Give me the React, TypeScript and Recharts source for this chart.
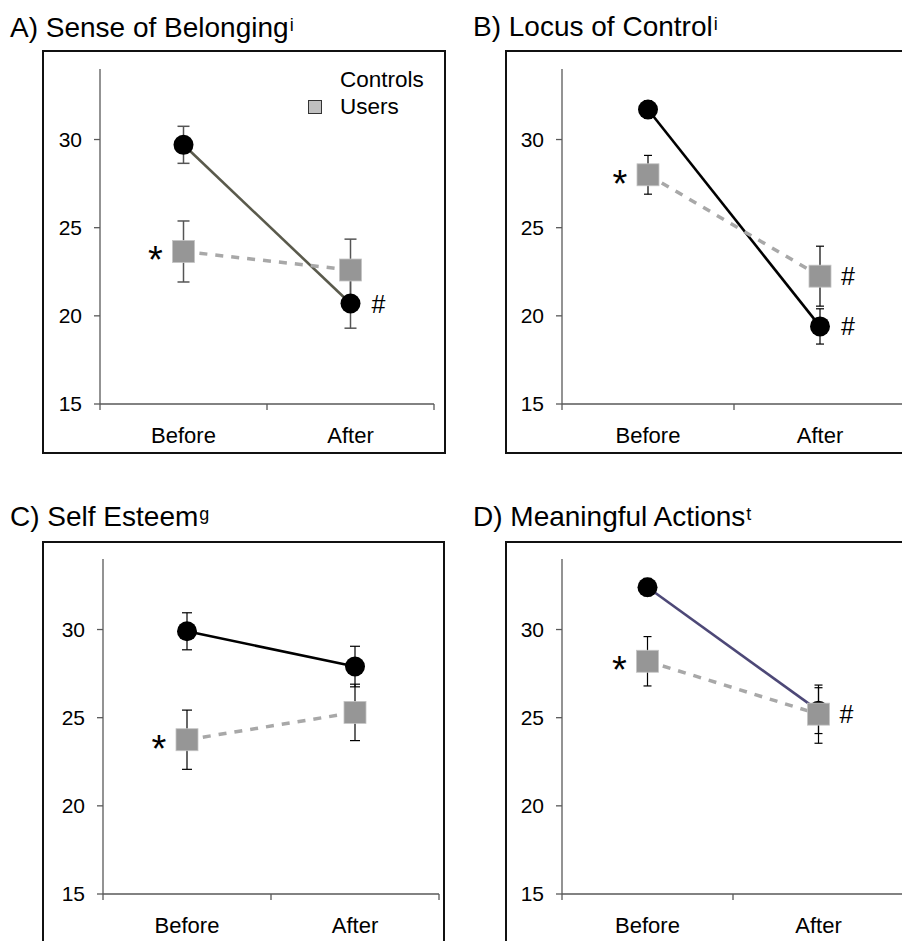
import React from "react";
import { ErrorBar, LabelList, Line, LineChart, XAxis, YAxis } from "recharts";

const categories = ["Before", "After"];
const xSlots = [0.5, 1.5];
const xTicks = [0, 0.5, 1, 1.5, 2];
const yTicks = [15, 20, 25, 30];
const seriesNames = ["Controls", "Users"];

// A) Sense of Belonging
const belongingControls = [29.7, 20.7];
const belongingControlsErr = [1.05, 1.4];
const belongingUsers = [23.65, 22.6];
const belongingUsersErr = [1.73, 1.75];
const belongingControlsNotes = ["", "#"];
const belongingUsersNotes = ["*", ""];

// B) Locus of Control
const locusControls = [31.7, 19.4];
const locusControlsErr = [0.5, 1.0];
const locusUsers = [28.0, 22.25];
const locusUsersErr = [1.1, 1.7];
const locusControlsNotes = ["", "#"];
const locusUsersNotes = ["*", "#"];

// C) Self Esteem
const esteemControls = [29.9, 27.9];
const esteemControlsErr = [1.05, 1.15];
const esteemUsers = [23.75, 25.3];
const esteemUsersErr = [1.68, 1.6];
const esteemControlsNotes = ["", ""];
const esteemUsersNotes = ["*", ""];

// D) Meaningful Actions
const actionsControls = [32.4, 25.4];
const actionsControlsErr = [0.5, 1.3];
const actionsUsers = [28.2, 25.2];
const actionsUsersErr = [1.4, 1.65];
const actionsControlsNotes = ["", ""];
const actionsUsersNotes = ["*", "#"];

const FONT = "'Liberation Sans', Arial, sans-serif";
const AXIS = "#595959";

function buildRows(c: number[], ce: number[], u: number[], ue: number[], cn: string[], un: string[]) {
  return xSlots.map((x, i) => ({
    x,
    controls: c[i],
    controlsErr: ce[i],
    users: u[i],
    usersErr: ue[i],
    controlsNote: cn[i],
    usersNote: un[i],
  }));
}

const CircleDot = (props: any) => {
  const { cx, cy, index } = props;
  if (cx == null || cy == null) return null;
  return <circle key={`c-${index}`} cx={cx} cy={cy} r={10} fill="#000" />;
};

const SquareDot = (props: any) => {
  const { cx, cy, index } = props;
  if (cx == null || cy == null) return null;
  return (
    <rect key={`s-${index}`} x={cx - 11} y={cy - 11} width={22} height={22} fill="#969696" stroke="#c4c4c4" strokeWidth={0.8} />
  );
};

const XTick = (props: any) => {
  const { x, y, payload } = props;
  const v = payload.value;
  if (Number.isInteger(v)) {
    return <line x1={x} y1={y} x2={x} y2={y + 6} stroke={AXIS} strokeWidth={1.3} />;
  }
  const label = categories[xSlots.indexOf(v)];
  return (
    <text x={x} y={y + 38.5} textAnchor="middle" fontSize={22} fontFamily={FONT} fill="#000">
      {label}
    </text>
  );
};

const Note = (props: any) => {
  const { x, y, value } = props;
  if (!value) return null;
  if (value === "*") {
    return (
      <text x={x - 28} y={y + 22} textAnchor="middle" fontSize={38} fontFamily={FONT} fill="#000">
        *
      </text>
    );
  }
  return (
    <text x={x + 28} y={y + 9} textAnchor="middle" fontSize={25} fontFamily={FONT} fill="#000">
      {value}
    </text>
  );
};

type PanelProps = {
  title: string;
  sup: string;
  titleX: number;
  titleBaseline: number;
  fx: number;
  fy: number;
  w: number;
  h: number;
  yWidth: number;
  margin: { top: number; right: number; bottom: number; left: number };
  rows: any[];
  controlsStroke: string;
  errStroke: string;
  errWidth: number;
  capHalf: number;
  legend?: boolean;
};

function Panel(p: PanelProps) {
  return (
    <>
      <div
        style={{
          position: "absolute",
          left: p.titleX,
          top: p.titleBaseline - 23.5,
          fontFamily: FONT,
          fontSize: 28,
          lineHeight: "28px",
          whiteSpace: "nowrap",
          color: "#000",
        }}
      >
        {p.title}
        <span style={{ fontSize: 18, position: "relative", top: -6, marginLeft: 1 }}>{p.sup}</span>
      </div>
      <div style={{ position: "absolute", left: p.fx, top: p.fy, width: p.w, height: p.h }}>
        <LineChart width={p.w} height={p.h} data={p.rows} margin={p.margin}>
          <XAxis
            dataKey="x"
            type="number"
            domain={[0, 2]}
            ticks={xTicks}
            interval={0}
            tick={XTick}
            tickLine={false}
            tickSize={0}
            tickMargin={0}
            height={40}
            axisLine={{ stroke: AXIS, strokeWidth: 1.3 }}
          />
          <YAxis
            type="number"
            domain={[15, 34]}
            ticks={yTicks}
            allowDataOverflow
            width={p.yWidth}
            tickSize={6}
            tickMargin={12}
            tickLine={{ stroke: AXIS, strokeWidth: 1.3 }}
            axisLine={{ stroke: AXIS, strokeWidth: 1.3 }}
            tick={{ fill: "#000", fontSize: 21, fontFamily: FONT }}
          />
          <Line
            type="linear"
            dataKey="controls"
            name={seriesNames[0]}
            stroke={p.controlsStroke}
            strokeWidth={2.6}
            dot={CircleDot}
            activeDot={false}
            isAnimationActive={false}
          >
            <ErrorBar dataKey="controlsErr" direction="y" width={p.capHalf} stroke={p.errStroke} strokeWidth={p.errWidth} />
            <LabelList dataKey="controlsNote" content={Note} />
          </Line>
          <Line
            type="linear"
            dataKey="users"
            name={seriesNames[1]}
            stroke="#a8a8a8"
            strokeWidth={3.5}
            strokeDasharray="8 8"
            dot={SquareDot}
            activeDot={false}
            isAnimationActive={false}
          >
            <ErrorBar dataKey="usersErr" direction="y" width={p.capHalf} stroke={p.errStroke} strokeWidth={p.errWidth} />
            <LabelList dataKey="usersNote" content={Note} />
          </Line>
        </LineChart>
        <div
          style={{
            position: "absolute",
            left: 0,
            top: 0,
            width: p.w,
            height: p.h,
            border: "2px solid #111",
            boxSizing: "border-box",
            pointerEvents: "none",
          }}
        />
        {p.legend && (
          <div style={{ position: "absolute", left: 266, top: 16, fontFamily: FONT, fontSize: 22.5, color: "#000" }}>
            {seriesNames.map((name, i) => (
              <div key={name} style={{ display: "flex", alignItems: "center", height: 27.5 }}>
                <span
                  style={{
                    display: "inline-block",
                    width: 14,
                    height: 14,
                    marginRight: 18,
                    boxSizing: "border-box",
                    background: i === 1 ? "#c0c0c0" : "transparent",
                    border: i === 1 ? "1.5px solid #333" : "none",
                  }}
                />
                {name}
              </div>
            ))}
          </div>
        )}
      </div>
    </>
  );
}

export default function App() {
  return (
    <div style={{ position: "absolute", left: 0, top: 0, width: 902, height: 941, overflow: "hidden", background: "#fff" }}>
      <Panel
        title="A) Sense of Belonging"
        sup="i"
        titleX={10}
        titleBaseline={37.5}
        fx={42}
        fy={50}
        w={404}
        h={404}
        yWidth={58}
        margin={{ top: 19, right: 12, bottom: 10, left: 0 }}
        rows={buildRows(belongingControls, belongingControlsErr, belongingUsers, belongingUsersErr, belongingControlsNotes, belongingUsersNotes)}
        controlsStroke="#5a5a4c"
        errStroke="#555"
        errWidth={1.5}
        capHalf={6}
        legend
      />
      <Panel
        title="B) Locus of Control"
        sup="i"
        titleX={473}
        titleBaseline={36}
        fx={505}
        fy={50}
        w={412}
        h={404}
        yWidth={57}
        margin={{ top: 19, right: 11, bottom: 10, left: 0 }}
        rows={buildRows(locusControls, locusControlsErr, locusUsers, locusUsersErr, locusControlsNotes, locusUsersNotes)}
        controlsStroke="#000"
        errStroke="#000"
        errWidth={1.2}
        capHalf={4}
      />
      <Panel
        title="C) Self Esteem"
        sup="g"
        titleX={10}
        titleBaseline={526.5}
        fx={42}
        fy={541}
        w={403}
        h={403}
        yWidth={61}
        margin={{ top: 18, right: 6, bottom: 10, left: 0 }}
        rows={buildRows(esteemControls, esteemControlsErr, esteemUsers, esteemUsersErr, esteemControlsNotes, esteemUsersNotes)}
        controlsStroke="#000"
        errStroke="#000"
        errWidth={1.2}
        capHalf={5}
      />
      <Panel
        title="D) Meaningful Actions"
        sup="t"
        titleX={473}
        titleBaseline={526.5}
        fx={505}
        fy={541}
        w={412}
        h={403}
        yWidth={57}
        margin={{ top: 18, right: 13, bottom: 10, left: 0 }}
        rows={buildRows(actionsControls, actionsControlsErr, actionsUsers, actionsUsersErr, actionsControlsNotes, actionsUsersNotes)}
        controlsStroke="#4d4877"
        errStroke="#000"
        errWidth={1.2}
        capHalf={4}
      />
    </div>
  );
}
